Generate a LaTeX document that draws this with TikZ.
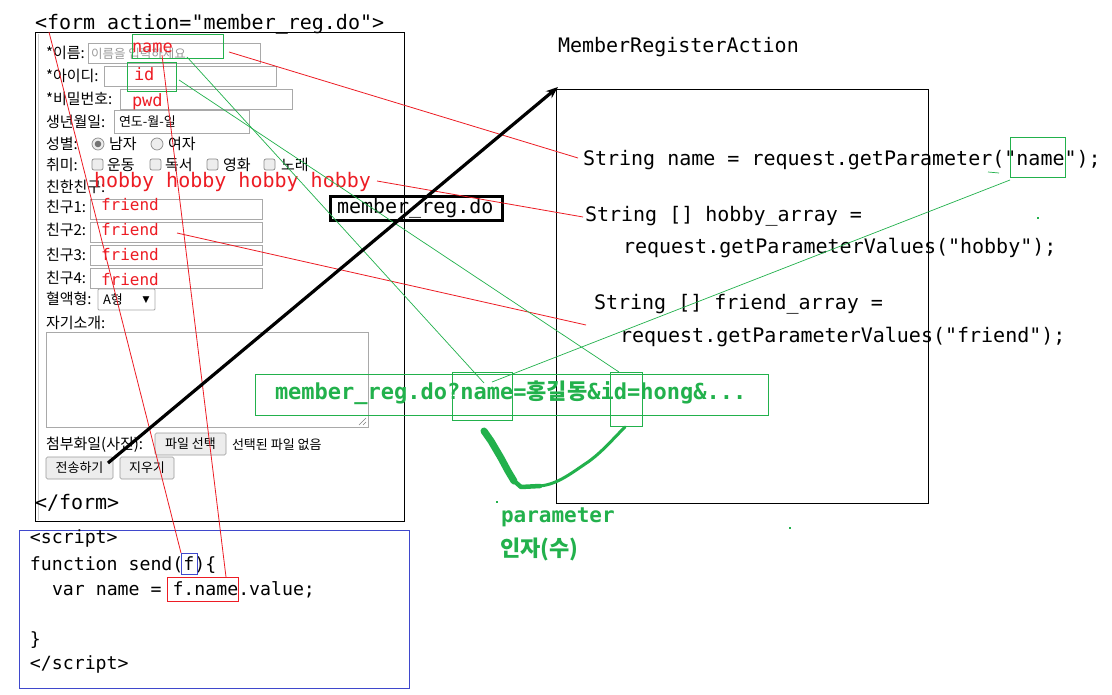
\documentclass[tikz,border=0pt]{standalone}
\usepackage{fontspec}
\setmainfont{DejaVu Sans}
\newfontfamily\mono{DejaVu Sans Mono}
\newfontfamily\kr{Noto Sans CJK KR}
\usetikzlibrary{arrows.meta}
\definecolor{pred}{HTML}{ED1C24}
\definecolor{pgreen}{HTML}{22B14C}
\definecolor{pblue}{HTML}{3F48CC}
\definecolor{fgray}{HTML}{A9A9A9}
\begin{document}
\begin{tikzpicture}[x=1pt,y=-1pt,
  every node/.style={inner sep=0pt,outer sep=0pt},
  lbl/.style={anchor=base west,font=\kr\fontsize{15}{17}\selectfont},
  small/.style={anchor=base west,font=\kr\fontsize{13}{15}\selectfont},
  ph/.style={anchor=base west,font=\kr\fontsize{12.5}{14}\selectfont,text=black!40},
  field/.style={draw=fgray,line width=0.8pt,anchor=north west},
  btn/.style={draw=black!40,fill=black!7,rounded corners=1.5pt,line width=0.7pt,anchor=north west,font=\kr\fontsize{13}{15}\selectfont},
  radio/.style={circle,draw=black!45,fill=black!7,minimum size=12pt,line width=0.7pt},
  chk/.style={draw=black!45,fill=black!7,rounded corners=2pt,minimum size=11pt,line width=0.7pt,anchor=north west},
  redtxt/.style={anchor=base west,font=\mono\fontsize{17}{20}\selectfont,text=pred},
  code/.style={anchor=base west,font=\mono\fontsize{20}{24}\selectfont},
  scode/.style={anchor=base west,font=\mono\fontsize{18.2}{20}\selectfont},
  gbox/.style={draw=pgreen,line width=0.9pt,anchor=north west},
  redline/.style={draw=pred,line width=0.8pt},
  greenline/.style={draw=pgreen,line width=0.7pt},
  gtxt/.style={anchor=base west,text=pgreen}]

\fill[white] (0,0) rectangle (1112,695);
\useasboundingbox (0,0) rectangle (1112,695);

% ---------- form ----------
\node[code] (formopen) at (35,30) {<form action="member\_reg.do">};
\node[draw,line width=0.9pt,anchor=north west,minimum width=369pt,minimum height=489pt] (form) at (35,32) {};
\draw[black!20,line width=0.8pt] (38,34) -- (38,520);

\node[lbl] (l1) at (46,59) {*이름:};
\node[field,minimum width=172pt,minimum height=20pt] (f1) at (88,43) {};
\node[ph] (p1) at (91,59) {이름을 입력하세요};
\node[lbl] (l2) at (46,82) {*아이디:};
\node[field,minimum width=172pt,minimum height=20pt] (f2) at (104,66) {};
\node[lbl] (l3) at (46,105) {*비밀번호:};
\node[field,minimum width=172pt,minimum height=20pt] (f3) at (120,89) {};
\node[lbl] (l4) at (46,128) {생년월일:};
\node[field,minimum width=135pt,minimum height=23pt] (f4) at (114,110) {};
\node[small] (p4) at (119,127) {연도-월-일};
\node[lbl] (l5) at (46,150) {성별:};
\node[radio] (r1) at (98,144) {};
\fill[black!55] (r1) circle (3.3pt);
\node[lbl] (r1t) at (109,150) {남자};
\node[radio] (r2) at (157,144) {};
\node[lbl] (r2t) at (168,150) {여자};
\node[lbl] (l6) at (46,171) {취미:};
\node[chk] (c1) at (92,159) {};
\node[lbl] (c1t) at (107,171) {운동};
\node[chk] (c2) at (150,159) {};
\node[lbl] (c2t) at (165,171) {독서};
\node[chk] (c3) at (207,159) {};
\node[lbl] (c3t) at (223,171) {영화};
\node[chk] (c4) at (264,159) {};
\node[lbl] (c4t) at (281,171) {노래};
\node[lbl] (l7) at (46,193) {친한친구:};
\node[lbl] (l8) at (46,213) {친구1:};
\node[field,minimum width=172pt,minimum height=20pt] (fr1) at (90,199) {};
\node[lbl] (l9) at (46,236) {친구2:};
\node[field,minimum width=172pt,minimum height=20pt] (fr2) at (90,222) {};
\node[lbl] (l10) at (46,261) {친구3:};
\node[field,minimum width=172pt,minimum height=20pt] (fr3) at (90,245) {};
\node[lbl] (l11) at (46,284) {친구4:};
\node[field,minimum width=172pt,minimum height=20pt] (fr4) at (90,268) {};
\node[lbl] (l12) at (46,305) {혈액형:};
\node[field,minimum width=57pt,minimum height=21pt,rounded corners=1pt] (sel) at (98,289) {};
\node[small] (selt) at (103,305) {A형};
\node[font=\fontsize{9}{10}\selectfont] (seltri) at (146,300) {▼};
\node[lbl] (l13) at (46,328) {자기소개:};
\node[field,minimum width=322pt,minimum height=95pt] (ta) at (46,332) {};
\draw[black!50,line width=0.6pt] (359,425) -- (366,418) (363,425) -- (366,422);
\node[lbl] (l14) at (46,449) {첨부화일(사진):};
\node[btn,minimum width=71pt,minimum height=22pt] (filebtn) at (155,433) {파일 선택};
\node[small] (nofile) at (232,449) {선택된 파일 없음};
\node[btn,minimum width=67pt,minimum height=22pt] (submit) at (46,457) {전송하기};
\node[btn,minimum width=54pt,minimum height=22pt] (reset) at (120,457) {지우기};
\node[code] (formclose) at (35,509) {</form>};

% red texts in form
\node[redtxt] (tname) at (132,53) {name};
\node[redtxt] (tid) at (134,81) {id};
\node[redtxt] (tpwd) at (132,107) {pwd};
\node[anchor=base west,font=\mono\fontsize{20}{24}\selectfont,text=pred] (thobby) at (94,188) {hobby hobby hobby hobby};
\node[redtxt,font=\mono\fontsize{16}{19}\selectfont] (tf1) at (101,211) {friend};
\node[redtxt,font=\mono\fontsize{16}{19}\selectfont] (tf2) at (101,236) {friend};
\node[redtxt,font=\mono\fontsize{16}{19}\selectfont] (tf3) at (101,261) {friend};
\node[redtxt,font=\mono\fontsize{16}{19}\selectfont] (tf4) at (101,286) {friend};
\node[gbox,minimum width=91pt,minimum height=24pt] (gname) at (132,34) {};
\node[gbox,minimum width=49pt,minimum height=29pt] (gid) at (127,62) {};

% ---------- script ----------
\node[draw=pblue,line width=0.9pt,anchor=north west,minimum width=390pt,minimum height=158pt] (script) at (19,530) {};
\node[scode] (s1) at (30,543) {<script>};
\node[scode] (s2) at (30,570) {function send(f)\{};
\node[scode] (s3) at (52,595) {var name = f.name.value;};
\node[scode] (s4) at (30,645) {\}};
\node[scode] (s5) at (30,669) {</script>};
\node[draw=pblue,line width=0.9pt,anchor=north west,minimum width=16pt,minimum height=21pt] (bf) at (181,553) {};
\node[draw=pred,line width=0.9pt,anchor=north west,minimum width=71pt,minimum height=24pt] (bfname) at (167,577) {};

% ---------- action ----------
\node[code] (actitle) at (558,53) {MemberRegisterAction};
\node[draw,line width=0.9pt,anchor=north west,minimum width=372pt,minimum height=414pt] (action) at (556,89) {};
\node[code] (a1) at (583,166) {String name = request.getParameter("name");};
\node[code] (a2) at (585,222) {String [] hobby\_array =};
\node[code] (a3) at (623,254) {request.getParameterValues("hobby");};
\node[code] (a4) at (594,310) {String [] friend\_array =};
\node[code] (a5) at (620,342) {request.getParameterValues("friend");};
\node[gbox,minimum width=55pt,minimum height=40pt] (gpar) at (1010,137) {};

% ---------- member_reg.do label ----------
\node[draw,line width=3pt,anchor=north west,minimum width=172pt,minimum height=24pt] (mrbox) at (330.5,196.5) {};
\node[code] (mrtxt) at (337,214) {member\_reg.do};

% ---------- query ----------
\node[gbox,minimum width=513pt,minimum height=41pt] (query) at (255,374) {};
\node[gtxt,font=\mono\bfseries\fontsize{22}{24}\selectfont] (qtxt) at (275,399) {member\_reg.do?name={\kr\bfseries 홍길동}\&id=hong\&...};
\node[gbox,minimum width=60pt,minimum height=48pt] (qname) at (452,372) {};
\node[gbox,minimum width=32pt,minimum height=54pt] (qid) at (610,372) {};
\node[gtxt,font=\mono\bfseries\fontsize{21}{24}\selectfont] (param) at (501,522) {parameter};
\node[gtxt,font=\kr\bfseries\fontsize{22}{24}\selectfont] (inja) at (500,556) {인자(수)};

% ---------- connectors ----------
\coordinate (r1a) at (229,52);  \coordinate (r1b) at (578,158);
\coordinate (r2a) at (377,181); \coordinate (r2b) at (583,217);
\coordinate (r3a) at (177,233); \coordinate (r3b) at (586,325);
\coordinate (r4a) at (49,32);
\coordinate (r5a) at (162,55);
\draw[redline] (r1a) -- (r1b);
\draw[redline] (r2a) -- (r2b);
\draw[redline] (r3a) -- (r3b);
\draw[redline] (r4a) -- (bf.north west);
\draw[redline] (r5a) -- ([xshift=-12pt]bfname.north east);

\coordinate (g1a) at (187,57); \coordinate (g1b) at (484,383);
\coordinate (g2a) at (179,80); \coordinate (g2b) at (619,372);
\coordinate (g3a) at (492,382);
\draw[greenline] (g1a) -- (g1b);
\draw[greenline] (g2a) -- (g2b);
\draw[greenline] (g3a) -- ([yshift=-3pt]gpar.south west);
\draw[greenline] (988,172) -- (999,173);
\fill[pgreen] (496,501) rectangle (497.5,503);
\fill[pgreen] (789,527) rectangle (791,528.5);
\fill[pgreen] (1037,217.5) rectangle (1039,219);

% green hand-drawn curve
\draw[pgreen,line width=7pt,line cap=round,line join=round] (484,431) -- (491,441) -- (501,458) -- (508,471) -- (514,481);
\draw[pgreen,line width=4.5pt,line cap=round,line join=round] (513,480) -- (521,487) -- (540,486);
\draw[pgreen,line width=3pt,line cap=round] (540,486) .. controls (558,484) and (570,474) .. (588,462) .. controls (602,452) and (612,440) .. (625,427);

% black arrow
\coordinate (sendpt) at (108,463);
\draw[line width=3.2pt,-{Stealth[length=12pt,width=9pt]}] (sendpt) -- ([shift={(2pt,2pt)}]action.north west);
\end{tikzpicture}
\end{document}
